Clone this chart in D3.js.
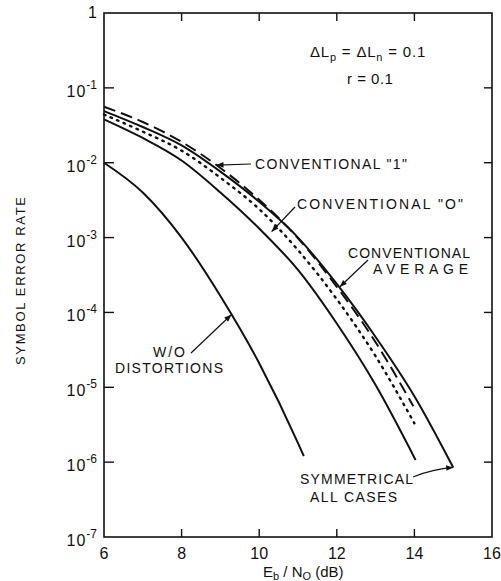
<!DOCTYPE html>
<html>
<head>
<meta charset="utf-8">
<script src="https://cdn.jsdelivr.net/npm/d3@7"></script>
<style>
  body { margin: 0; background: #fff; }
  text { font-family: "Liberation Sans", Arial, sans-serif; fill: #111; }
</style>
</head>
<body>
<div id="chart-area"></div>
<script>
// values (Eb/N0 in dB, symbol error rate)
var ebno = [6, 7, 8, 9, 10, 11, 11.15];
var serNoDistortion = [1.0e-2, 4.0e-3, 1.0e-3, 1.66e-4, 2.1e-5, 1.8e-6, 1.2e-6];

var ebnoInner = [6, 7, 8, 9, 10, 11, 12, 13, 14.03];
var serInner = [3.8e-2, 2.14e-2, 1.07e-2, 4.0e-3, 1.32e-3, 3.7e-4, 7.1e-5, 1.07e-5, 1.07e-6];

var ebnoOuter = [6, 7, 8, 9, 10, 11, 12, 13, 14, 15];
var serOuter = [4.9e-2, 3.0e-2, 1.7e-2, 7.6e-3, 3.0e-3, 1.0e-3, 2.4e-4, 4.7e-5, 7.6e-6, 8.5e-7];

var ebnoConv1 = [6, 7, 8, 9, 10, 11, 12, 13, 13.97];
var serConv1 = [5.6e-2, 3.5e-2, 1.9e-2, 8.5e-3, 3.2e-3, 9.8e-4, 2.2e-4, 4.0e-5, 5.6e-6];

var ebnoConv0 = [6, 7, 8, 9, 10, 11, 12, 13, 14];
var serConv0 = [4.4e-2, 2.6e-2, 1.45e-2, 6.3e-3, 2.4e-3, 6.8e-4, 1.5e-4, 2.6e-5, 3.3e-6];

var xTicks = [6, 8, 10, 12, 14, 16];
var yExponents = [0, -1, -2, -3, -4, -5, -6, -7];

var margin = {top: 13, right: 9, bottom: 44, left: 104};
var width = 501 - margin.left - margin.right;
var height = 581 - margin.top - margin.bottom;

var svg = d3.select("#chart-area")
  .append("svg")
  .attr("width", 501)
  .attr("height", 581);

var g = svg.append("g")
  .attr("transform", "translate(" + margin.left + "," + margin.top + ")");

var x = d3.scaleLinear().domain([6, 16]).range([0, width]);
var y = d3.scaleLog().domain([1e-7, 1]).range([height, 0]);

// arrow head
svg.append("defs").append("marker")
  .attr("id", "arr")
  .attr("viewBox", "0 0 10 10")
  .attr("refX", 10).attr("refY", 5)
  .attr("markerWidth", 9).attr("markerHeight", 7)
  .attr("markerUnits", "userSpaceOnUse")
  .attr("orient", "auto")
  .append("path")
  .attr("d", "M0,1 L10,5 L0,9 Z")
  .attr("fill", "#111");

// frame
g.append("rect")
  .attr("width", width).attr("height", height)
  .attr("fill", "none").attr("stroke", "#111").attr("stroke-width", 1.6);

// inward ticks
var tickLen = 8;
g.selectAll(".ytick-l").data(yExponents.slice(1, -1)).enter()
  .append("line")
  .attr("x1", 0).attr("x2", tickLen + 2)
  .attr("y1", function(d) { return y(Math.pow(10, d)); })
  .attr("y2", function(d) { return y(Math.pow(10, d)); })
  .attr("stroke", "#111").attr("stroke-width", 1.4);
g.selectAll(".ytick-r").data(yExponents.slice(1, -1)).enter()
  .append("line")
  .attr("x1", width - tickLen).attr("x2", width)
  .attr("y1", function(d) { return y(Math.pow(10, d)); })
  .attr("y2", function(d) { return y(Math.pow(10, d)); })
  .attr("stroke", "#111").attr("stroke-width", 1.4);
g.selectAll(".xtick-b").data(xTicks.slice(1, -1)).enter()
  .append("line")
  .attr("x1", function(d) { return x(d); }).attr("x2", function(d) { return x(d); })
  .attr("y1", height).attr("y2", height - tickLen)
  .attr("stroke", "#111").attr("stroke-width", 1.4);
g.selectAll(".xtick-t").data(xTicks.slice(1, -1)).enter()
  .append("line")
  .attr("x1", function(d) { return x(d); }).attr("x2", function(d) { return x(d); })
  .attr("y1", 0).attr("y2", tickLen)
  .attr("stroke", "#111").attr("stroke-width", 1.4);

// x tick labels
g.selectAll(".xlab").data(xTicks).enter()
  .append("text")
  .attr("x", function(d) { return x(d); })
  .attr("y", height + 22)
  .attr("text-anchor", "middle")
  .attr("font-size", "16px")
  .text(function(d) { return d; });

// y tick labels (powers of ten)
var ylab = g.selectAll(".ylab").data(yExponents).enter()
  .append("text")
  .attr("x", -7)
  .attr("y", function(d) { return y(Math.pow(10, d)) + (d === 0 ? 5 : 9); })
  .attr("text-anchor", "end")
  .attr("font-size", "16px");
ylab.filter(function(d) { return d === 0; }).text("1");
ylab.filter(function(d) { return d !== 0; }).each(function(d) {
  var t = d3.select(this);
  t.append("tspan").attr("letter-spacing", "1px").text("10");
  t.append("tspan").attr("dy", -8).attr("font-size", "12px").text("-" + (-d));
});

// axis titles
svg.append("text")
  .attr("transform", "translate(25,281) rotate(-90)")
  .attr("text-anchor", "middle")
  .attr("font-size", "13px")
  .attr("textLength", 168).attr("lengthAdjust", "spacing")
  .text("SYMBOL ERROR RATE");

var xt = svg.append("text")
  .attr("x", 263).attr("y", 577)
  .attr("font-size", "15px");
xt.append("tspan").text("E");
xt.append("tspan").attr("dy", 3).attr("font-size", "11px").text("b");
xt.append("tspan").attr("dy", -3).text(" / N");
xt.append("tspan").attr("dy", 3).attr("font-size", "11px").text("O");
xt.append("tspan").attr("dy", -3).text(" (dB)");

// curves
var line = d3.line()
  .x(function(d) { return x(d[0]); })
  .y(function(d) { return y(d[1]); })
  .curve(d3.curveMonotoneX);

var curves = [
  {xs: ebno, ys: serNoDistortion, dash: null},
  {xs: ebnoInner, ys: serInner, dash: null},
  {xs: ebnoOuter, ys: serOuter, dash: null},
  {xs: ebnoConv1, ys: serConv1, dash: "12,6"},
  {xs: ebnoConv0, ys: serConv0, dash: "1.6,5.5"}
];

g.selectAll(".curve").data(curves).enter()
  .append("path")
  .attr("class", "curve")
  .attr("d", function(c) { return line(d3.zip(c.xs, c.ys)); })
  .attr("fill", "none")
  .attr("stroke", "#111")
  .attr("stroke-width", function(c) { return c.dash === "1.6,5.5" ? 2.4 : 2; })
  .attr("stroke-linecap", function(c) { return c.dash === "1.6,5.5" ? "round" : "butt"; })
  .attr("stroke-dasharray", function(c) { return c.dash; });

// parameter text
var p = g.append("text").attr("x", 206).attr("y", 44)
  .attr("font-size", "15px").attr("letter-spacing", "0.8px");
p.append("tspan").text("\u0394L");
p.append("tspan").attr("dy", 4).attr("font-size", "11px").text("p");
p.append("tspan").attr("dy", -4).text(" = \u0394L");
p.append("tspan").attr("dy", 4).attr("font-size", "11px").text("n");
p.append("tspan").attr("dy", -4).text(" = 0.1");

g.append("text").attr("x", 243).attr("y", 71).attr("font-size", "15px")
  .attr("letter-spacing", "0.5px")
  .text("r = 0.1");

// labels
function label(txt, px, py, len) {
  g.append("text")
    .attr("x", px - margin.left).attr("y", py - margin.top)
    .attr("font-size", "14px")
    .attr("textLength", len).attr("lengthAdjust", "spacing")
    .text(txt);
}
label("CONVENTIONAL \"1\"", 255, 169, 152);
label("CONVENTIONAL \"O\"", 297, 209, 166);
label("CONVENTIONAL", 348, 258, 122);
label("AVERAGE", 373, 274, 95);
label("W/O", 153, 357, 32);
label("DISTORTIONS", 115, 373, 108);
label("SYMMETRICAL", 300, 484, 113);
label("ALL CASES", 310, 502, 87);

// arrows: tail in pixels, tip on a curve at [dB, rate]
function arrow(tx, ty, tip, bend) {
  var ex = x(tip[0]), ey = y(tip[1]);
  var sx = tx - margin.left, sy = ty - margin.top;
  var d = bend
    ? "M" + sx + "," + sy + " Q" + ((sx + ex) / 2) + "," + (sy - 8) + " " + ex + "," + ey
    : "M" + sx + "," + sy + " L" + ex + "," + ey;
  g.append("path")
    .attr("d", d)
    .attr("fill", "none").attr("stroke", "#111").attr("stroke-width", 1.2)
    .attr("marker-end", "url(#arr)");
}
arrow(251, 164, [8.9, 9.3e-3], false);
arrow(295, 207, [10.32, 1.2e-3], false);
arrow(368, 260, [12.08, 2.2e-4], false);
arrow(191, 353, [9.28, 9.3e-5], false);
arrow(413, 477, [15, 8.5e-7], true);
</script>
</body>
</html>
